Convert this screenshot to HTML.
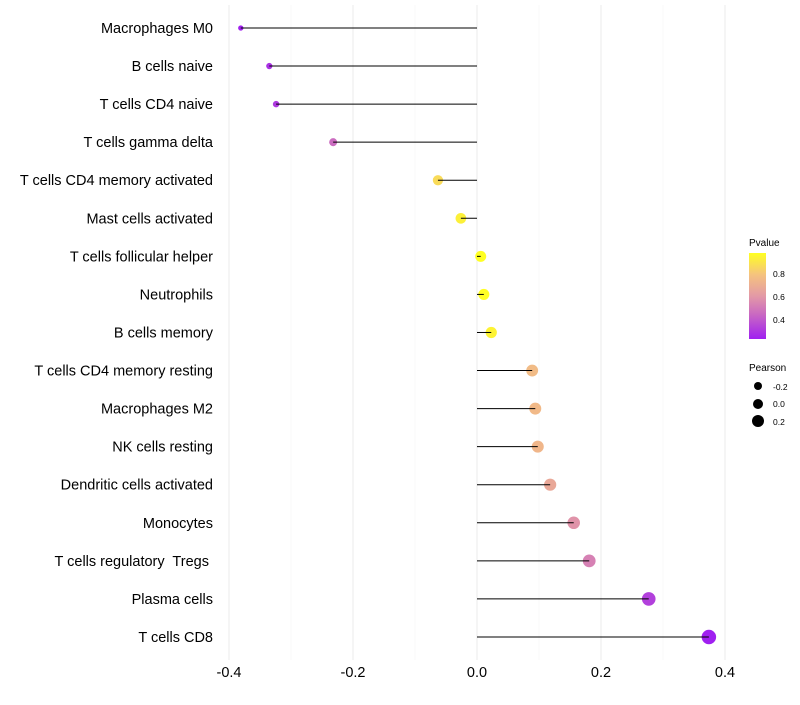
<!DOCTYPE html>
<html><head><meta charset="utf-8"><style>
body{margin:0;background:#fff;font-family:"Liberation Sans",sans-serif;}
text{white-space:pre;}
</style></head><body>
<svg id="chart" width="800" height="700" xmlns="http://www.w3.org/2000/svg">
<defs><linearGradient id="pg" x1="0" y1="1" x2="0" y2="0">
<stop offset="0" stop-color="#A020F0"/><stop offset="0.3" stop-color="#CB6CC0"/><stop offset="0.5" stop-color="#E399A6"/><stop offset="0.75" stop-color="#F5C37E"/><stop offset="1" stop-color="#FFFF22"/>
</linearGradient></defs>
<g id="grid"></g><g id="marks"></g><g id="labels"></g>
<g font-size="10" fill="#000">
<text x="749" y="246">Pvalue</text>
<rect x="749" y="253" width="17" height="86" fill="url(#pg)"/>
<text x="773" y="277" font-size="8.5">0.8</text>
<text x="773" y="300" font-size="8.5">0.6</text>
<text x="773" y="323" font-size="8.5">0.4</text>
<text x="749" y="371">Pearson</text>
<circle cx="758" cy="386" r="4"/>
<circle cx="758" cy="404" r="5"/>
<circle cx="758" cy="421" r="6"/>
<text x="773" y="390" font-size="8.5">-0.2</text>
<text x="773" y="407" font-size="8.5">0.0</text>
<text x="773" y="425" font-size="8.5">0.2</text>
</g>
</svg>
<script>
const categories=["Macrophages M0","B cells naive","T cells CD4 naive","T cells gamma delta","T cells CD4 memory activated","Mast cells activated","T cells follicular helper","Neutrophils","B cells memory","T cells CD4 memory resting","Macrophages M2","NK cells resting","Dendritic cells activated","Monocytes","T cells regulatory  Tregs ","Plasma cells","T cells CD8"];
const pearson=[-0.381,-0.335,-0.324,-0.232,-0.063,-0.026,0.006,0.011,0.023,0.089,0.094,0.098,0.118,0.156,0.181,0.277,0.374];
const pvalues=[0.23,0.28,0.30,0.45,0.87,0.93,0.98,0.97,0.94,0.76,0.75,0.74,0.67,0.58,0.52,0.32,0.22];
const xTicks=[-0.4,-0.2,0.0,0.2,0.4];
const xTickLabels=["-0.4","-0.2","0.0","0.2","0.4"];
const NS="http://www.w3.org/2000/svg";
const x=v=>477+v*620;
const y=i=>28+i*38.06;
const rad=v=>Math.sqrt(Math.max(4,30+60*v));
const stops=[[0.226,[160,32,240]],[0.45,[203,108,192]],[0.6,[227,153,166]],[0.8,[245,195,126]],[0.974,[255,255,34]]];
function col(p){if(p<=stops[0][0])return`rgb(${stops[0][1]})`;for(let k=1;k<stops.length;k++){if(p<=stops[k][0]){const a=stops[k-1],b=stops[k],t=(p-a[0])/(b[0]-a[0]);return`rgb(${a[1].map((c,j)=>Math.round(c+(b[1][j]-c)*t)).join(",")})`;}}return`rgb(${stops[stops.length-1][1]})`;}
function mk(t,at,parent){const e=document.createElementNS(NS,t);for(const k in at)e.setAttribute(k,at[k]);document.getElementById(parent).appendChild(e);return e;}
for(let v=-0.4;v<=0.401;v+=0.1){const major=Math.abs(Math.round(v*10))%2===0;
const g=mk("line",{x1:x(v),x2:x(v),y1:5,y2:660,stroke:major?"#ebebeb":"#f5f5f5","stroke-width":major?1:0.7},"grid");

}
xTicks.forEach((v,i)=>{const t=mk("text",{x:x(v),y:677,"text-anchor":"middle","font-size":"14.5",fill:"#000"},"labels");t.textContent=xTickLabels[i];

});
categories.forEach((c,i)=>{
const pt=mk("circle",{cx:x(pearson[i]),cy:y(i),r:rad(pearson[i]),fill:col(pvalues[i])},"marks");


const ln=mk("line",{x1:x(0),x2:x(pearson[i]),y1:y(i),y2:y(i),stroke:"#000","stroke-width":1},"marks");


const t=mk("text",{x:213,y:y(i)+5,"text-anchor":"end","font-size":"14.5",fill:"#000"},"labels");t.textContent=c;

});
</script>
</body></html>
